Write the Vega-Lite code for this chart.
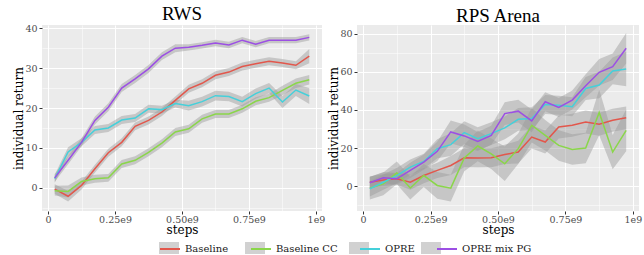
{
  "$schema": "https://vega.github.io/schema/vega-lite/v6.json",
  "padding": {"left": 12, "top": 5, "right": 5, "bottom": 0},
  "spacing": 2,
  "datasets": {
    "rws": [
      {"s": 25000000, "series": "Baseline", "mean": -0.3, "lo": -1.5, "hi": 0.9},
      {"s": 75000000, "series": "Baseline", "mean": -2.1, "lo": -3.4, "hi": -0.8},
      {"s": 125000000, "series": "Baseline", "mean": 0.6, "lo": -0.4, "hi": 1.6},
      {"s": 175000000, "series": "Baseline", "mean": 4.8, "lo": 3.8, "hi": 5.8},
      {"s": 225000000, "series": "Baseline", "mean": 8.8, "lo": 7.8, "hi": 9.8},
      {"s": 275000000, "series": "Baseline", "mean": 11.4, "lo": 10.4, "hi": 12.4},
      {"s": 325000000, "series": "Baseline", "mean": 15.4, "lo": 14.4, "hi": 16.4},
      {"s": 375000000, "series": "Baseline", "mean": 16.9, "lo": 15.9, "hi": 17.9},
      {"s": 425000000, "series": "Baseline", "mean": 19.0, "lo": 18.0, "hi": 20.0},
      {"s": 475000000, "series": "Baseline", "mean": 21.9, "lo": 20.9, "hi": 22.9},
      {"s": 525000000, "series": "Baseline", "mean": 24.8, "lo": 23.8, "hi": 25.8},
      {"s": 575000000, "series": "Baseline", "mean": 26.2, "lo": 25.2, "hi": 27.2},
      {"s": 625000000, "series": "Baseline", "mean": 28.2, "lo": 27.2, "hi": 29.2},
      {"s": 675000000, "series": "Baseline", "mean": 29.0, "lo": 28.0, "hi": 30.0},
      {"s": 725000000, "series": "Baseline", "mean": 30.4, "lo": 29.4, "hi": 31.4},
      {"s": 775000000, "series": "Baseline", "mean": 31.1, "lo": 30.1, "hi": 32.1},
      {"s": 825000000, "series": "Baseline", "mean": 31.7, "lo": 30.7, "hi": 32.7},
      {"s": 875000000, "series": "Baseline", "mean": 31.3, "lo": 30.3, "hi": 32.3},
      {"s": 925000000, "series": "Baseline", "mean": 30.7, "lo": 29.7, "hi": 31.7},
      {"s": 975000000, "series": "Baseline", "mean": 33.0, "lo": 31.2, "hi": 34.8},
      {"s": 25000000, "series": "Baseline CC", "mean": -0.7, "lo": -1.9, "hi": 0.5},
      {"s": 75000000, "series": "Baseline CC", "mean": -0.9, "lo": -2.4, "hi": 0.6},
      {"s": 125000000, "series": "Baseline CC", "mean": 1.6, "lo": 0.6, "hi": 2.6},
      {"s": 175000000, "series": "Baseline CC", "mean": 2.3, "lo": 1.3, "hi": 3.3},
      {"s": 225000000, "series": "Baseline CC", "mean": 2.5, "lo": 1.5, "hi": 3.5},
      {"s": 275000000, "series": "Baseline CC", "mean": 6.0, "lo": 5.0, "hi": 7.0},
      {"s": 325000000, "series": "Baseline CC", "mean": 6.9, "lo": 5.9, "hi": 7.9},
      {"s": 375000000, "series": "Baseline CC", "mean": 8.9, "lo": 7.9, "hi": 9.9},
      {"s": 425000000, "series": "Baseline CC", "mean": 11.2, "lo": 10.2, "hi": 12.2},
      {"s": 475000000, "series": "Baseline CC", "mean": 14.0, "lo": 13.0, "hi": 15.0},
      {"s": 525000000, "series": "Baseline CC", "mean": 14.8, "lo": 13.8, "hi": 15.8},
      {"s": 575000000, "series": "Baseline CC", "mean": 17.3, "lo": 16.3, "hi": 18.3},
      {"s": 625000000, "series": "Baseline CC", "mean": 18.5, "lo": 17.5, "hi": 19.5},
      {"s": 675000000, "series": "Baseline CC", "mean": 18.5, "lo": 17.5, "hi": 19.5},
      {"s": 725000000, "series": "Baseline CC", "mean": 19.8, "lo": 18.8, "hi": 20.8},
      {"s": 775000000, "series": "Baseline CC", "mean": 21.7, "lo": 20.7, "hi": 22.7},
      {"s": 825000000, "series": "Baseline CC", "mean": 22.6, "lo": 21.6, "hi": 23.6},
      {"s": 875000000, "series": "Baseline CC", "mean": 24.4, "lo": 23.2, "hi": 25.6},
      {"s": 925000000, "series": "Baseline CC", "mean": 26.2, "lo": 25.0, "hi": 27.4},
      {"s": 975000000, "series": "Baseline CC", "mean": 27.1, "lo": 25.9, "hi": 28.3},
      {"s": 25000000, "series": "OPRE", "mean": 2.3, "lo": 1.3, "hi": 3.3},
      {"s": 75000000, "series": "OPRE", "mean": 9.0, "lo": 7.8, "hi": 10.2},
      {"s": 125000000, "series": "OPRE", "mean": 11.4, "lo": 10.4, "hi": 12.4},
      {"s": 175000000, "series": "OPRE", "mean": 14.5, "lo": 13.5, "hi": 15.5},
      {"s": 225000000, "series": "OPRE", "mean": 15.0, "lo": 14.0, "hi": 16.0},
      {"s": 275000000, "series": "OPRE", "mean": 17.0, "lo": 16.0, "hi": 18.0},
      {"s": 325000000, "series": "OPRE", "mean": 17.5, "lo": 16.5, "hi": 18.5},
      {"s": 375000000, "series": "OPRE", "mean": 19.8, "lo": 18.8, "hi": 20.8},
      {"s": 425000000, "series": "OPRE", "mean": 19.6, "lo": 18.6, "hi": 20.6},
      {"s": 475000000, "series": "OPRE", "mean": 21.1, "lo": 20.1, "hi": 22.1},
      {"s": 525000000, "series": "OPRE", "mean": 20.6, "lo": 19.4, "hi": 21.8},
      {"s": 575000000, "series": "OPRE", "mean": 21.6, "lo": 20.4, "hi": 22.8},
      {"s": 625000000, "series": "OPRE", "mean": 23.1, "lo": 21.9, "hi": 24.3},
      {"s": 675000000, "series": "OPRE", "mean": 22.9, "lo": 21.7, "hi": 24.1},
      {"s": 725000000, "series": "OPRE", "mean": 21.6, "lo": 20.4, "hi": 22.8},
      {"s": 775000000, "series": "OPRE", "mean": 23.6, "lo": 22.3, "hi": 24.9},
      {"s": 825000000, "series": "OPRE", "mean": 25.0, "lo": 23.7, "hi": 26.3},
      {"s": 875000000, "series": "OPRE", "mean": 21.5, "lo": 20.0, "hi": 23.0},
      {"s": 925000000, "series": "OPRE", "mean": 24.5, "lo": 23.0, "hi": 26.0},
      {"s": 975000000, "series": "OPRE", "mean": 23.0, "lo": 21.0, "hi": 25.0},
      {"s": 25000000, "series": "OPRE mix PG", "mean": 2.5, "lo": 1.5, "hi": 3.5},
      {"s": 75000000, "series": "OPRE mix PG", "mean": 6.9, "lo": 5.9, "hi": 7.9},
      {"s": 125000000, "series": "OPRE mix PG", "mean": 11.4, "lo": 10.4, "hi": 12.4},
      {"s": 175000000, "series": "OPRE mix PG", "mean": 16.9, "lo": 15.9, "hi": 17.9},
      {"s": 225000000, "series": "OPRE mix PG", "mean": 20.2, "lo": 19.2, "hi": 21.2},
      {"s": 275000000, "series": "OPRE mix PG", "mean": 25.0, "lo": 24.0, "hi": 26.0},
      {"s": 325000000, "series": "OPRE mix PG", "mean": 27.3, "lo": 26.3, "hi": 28.3},
      {"s": 375000000, "series": "OPRE mix PG", "mean": 29.8, "lo": 28.8, "hi": 30.8},
      {"s": 425000000, "series": "OPRE mix PG", "mean": 33.0, "lo": 32.0, "hi": 34.0},
      {"s": 475000000, "series": "OPRE mix PG", "mean": 35.0, "lo": 34.0, "hi": 36.0},
      {"s": 525000000, "series": "OPRE mix PG", "mean": 35.2, "lo": 34.4, "hi": 36.0},
      {"s": 575000000, "series": "OPRE mix PG", "mean": 35.7, "lo": 34.9, "hi": 36.5},
      {"s": 625000000, "series": "OPRE mix PG", "mean": 36.3, "lo": 35.5, "hi": 37.1},
      {"s": 675000000, "series": "OPRE mix PG", "mean": 35.8, "lo": 35.0, "hi": 36.6},
      {"s": 725000000, "series": "OPRE mix PG", "mean": 37.0, "lo": 36.2, "hi": 37.8},
      {"s": 775000000, "series": "OPRE mix PG", "mean": 36.0, "lo": 35.2, "hi": 36.8},
      {"s": 825000000, "series": "OPRE mix PG", "mean": 37.0, "lo": 36.2, "hi": 37.8},
      {"s": 875000000, "series": "OPRE mix PG", "mean": 37.0, "lo": 36.2, "hi": 37.8},
      {"s": 925000000, "series": "OPRE mix PG", "mean": 37.0, "lo": 36.2, "hi": 37.8},
      {"s": 975000000, "series": "OPRE mix PG", "mean": 37.7, "lo": 36.9, "hi": 38.5}
    ],
    "rps": [
      {"s": 25000000, "series": "Baseline", "mean": 2.1, "lo": -0.9, "hi": 5.1},
      {"s": 75000000, "series": "Baseline", "mean": 3.3, "lo": 0.3, "hi": 6.3},
      {"s": 125000000, "series": "Baseline", "mean": 3.9, "lo": 0.9, "hi": 6.9},
      {"s": 175000000, "series": "Baseline", "mean": 2.1, "lo": -1.9, "hi": 6.1},
      {"s": 225000000, "series": "Baseline", "mean": 5.6, "lo": 1.6, "hi": 9.6},
      {"s": 275000000, "series": "Baseline", "mean": 8.3, "lo": 4.3, "hi": 12.3},
      {"s": 325000000, "series": "Baseline", "mean": 10.9, "lo": 5.9, "hi": 15.9},
      {"s": 375000000, "series": "Baseline", "mean": 14.9, "lo": 9.9, "hi": 19.9},
      {"s": 425000000, "series": "Baseline", "mean": 14.8, "lo": 9.8, "hi": 19.8},
      {"s": 475000000, "series": "Baseline", "mean": 14.9, "lo": 9.9, "hi": 19.9},
      {"s": 525000000, "series": "Baseline", "mean": 16.7, "lo": 11.7, "hi": 21.7},
      {"s": 575000000, "series": "Baseline", "mean": 17.9, "lo": 11.9, "hi": 23.9},
      {"s": 625000000, "series": "Baseline", "mean": 25.8, "lo": 19.8, "hi": 31.8},
      {"s": 675000000, "series": "Baseline", "mean": 23.2, "lo": 17.2, "hi": 29.2},
      {"s": 725000000, "series": "Baseline", "mean": 31.1, "lo": 25.1, "hi": 37.1},
      {"s": 775000000, "series": "Baseline", "mean": 32.0, "lo": 26.0, "hi": 38.0},
      {"s": 825000000, "series": "Baseline", "mean": 33.7, "lo": 27.7, "hi": 39.7},
      {"s": 875000000, "series": "Baseline", "mean": 32.5, "lo": 26.5, "hi": 38.5},
      {"s": 925000000, "series": "Baseline", "mean": 34.6, "lo": 28.6, "hi": 40.6},
      {"s": 975000000, "series": "Baseline", "mean": 35.9, "lo": 29.9, "hi": 41.9},
      {"s": 25000000, "series": "Baseline CC", "mean": -1.0, "lo": -7.0, "hi": 5.0},
      {"s": 75000000, "series": "Baseline CC", "mean": 1.2, "lo": -4.8, "hi": 7.2},
      {"s": 125000000, "series": "Baseline CC", "mean": 7.0, "lo": 1.0, "hi": 13.0},
      {"s": 175000000, "series": "Baseline CC", "mean": -0.9, "lo": -6.9, "hi": 5.1},
      {"s": 225000000, "series": "Baseline CC", "mean": 5.6, "lo": -0.4, "hi": 11.6},
      {"s": 275000000, "series": "Baseline CC", "mean": 0.4, "lo": -6.6, "hi": 7.4},
      {"s": 325000000, "series": "Baseline CC", "mean": -1.0, "lo": -8.0, "hi": 6.0},
      {"s": 375000000, "series": "Baseline CC", "mean": 14.8, "lo": 7.8, "hi": 21.8},
      {"s": 425000000, "series": "Baseline CC", "mean": 21.1, "lo": 13.1, "hi": 29.1},
      {"s": 475000000, "series": "Baseline CC", "mean": 17.0, "lo": 9.0, "hi": 25.0},
      {"s": 525000000, "series": "Baseline CC", "mean": 11.8, "lo": 2.8, "hi": 20.8},
      {"s": 575000000, "series": "Baseline CC", "mean": 19.7, "lo": 11.7, "hi": 27.7},
      {"s": 625000000, "series": "Baseline CC", "mean": 32.0, "lo": 23.0, "hi": 41.0},
      {"s": 675000000, "series": "Baseline CC", "mean": 26.7, "lo": 18.7, "hi": 34.7},
      {"s": 725000000, "series": "Baseline CC", "mean": 21.4, "lo": 13.4, "hi": 29.4},
      {"s": 775000000, "series": "Baseline CC", "mean": 19.3, "lo": 11.3, "hi": 27.3},
      {"s": 825000000, "series": "Baseline CC", "mean": 20.0, "lo": 12.0, "hi": 28.0},
      {"s": 875000000, "series": "Baseline CC", "mean": 38.7, "lo": 26.7, "hi": 50.7},
      {"s": 925000000, "series": "Baseline CC", "mean": 17.9, "lo": 8.9, "hi": 26.9},
      {"s": 975000000, "series": "Baseline CC", "mean": 29.3, "lo": 18.3, "hi": 40.3},
      {"s": 25000000, "series": "OPRE", "mean": -1.4, "lo": -5.4, "hi": 2.6},
      {"s": 75000000, "series": "OPRE", "mean": 2.1, "lo": -1.9, "hi": 6.1},
      {"s": 125000000, "series": "OPRE", "mean": 5.6, "lo": 1.6, "hi": 9.6},
      {"s": 175000000, "series": "OPRE", "mean": 10.0, "lo": 6.0, "hi": 14.0},
      {"s": 225000000, "series": "OPRE", "mean": 13.0, "lo": 9.0, "hi": 17.0},
      {"s": 275000000, "series": "OPRE", "mean": 19.7, "lo": 14.7, "hi": 24.7},
      {"s": 325000000, "series": "OPRE", "mean": 21.8, "lo": 15.8, "hi": 27.8},
      {"s": 375000000, "series": "OPRE", "mean": 28.1, "lo": 22.1, "hi": 34.1},
      {"s": 425000000, "series": "OPRE", "mean": 25.0, "lo": 19.0, "hi": 31.0},
      {"s": 475000000, "series": "OPRE", "mean": 27.6, "lo": 21.6, "hi": 33.6},
      {"s": 525000000, "series": "OPRE", "mean": 30.6, "lo": 24.6, "hi": 36.6},
      {"s": 575000000, "series": "OPRE", "mean": 35.1, "lo": 29.1, "hi": 41.1},
      {"s": 625000000, "series": "OPRE", "mean": 35.5, "lo": 29.5, "hi": 41.5},
      {"s": 675000000, "series": "OPRE", "mean": 42.9, "lo": 37.9, "hi": 47.9},
      {"s": 725000000, "series": "OPRE", "mean": 42.5, "lo": 37.5, "hi": 47.5},
      {"s": 775000000, "series": "OPRE", "mean": 41.7, "lo": 36.7, "hi": 46.7},
      {"s": 825000000, "series": "OPRE", "mean": 51.3, "lo": 45.3, "hi": 57.3},
      {"s": 875000000, "series": "OPRE", "mean": 53.1, "lo": 46.1, "hi": 60.1},
      {"s": 925000000, "series": "OPRE", "mean": 60.5, "lo": 53.5, "hi": 67.5},
      {"s": 975000000, "series": "OPRE", "mean": 61.5, "lo": 52.5, "hi": 70.5},
      {"s": 25000000, "series": "OPRE mix PG", "mean": 1.8, "lo": -1.2, "hi": 4.8},
      {"s": 75000000, "series": "OPRE mix PG", "mean": 4.4, "lo": 1.4, "hi": 7.4},
      {"s": 125000000, "series": "OPRE mix PG", "mean": 3.9, "lo": 0.9, "hi": 6.9},
      {"s": 175000000, "series": "OPRE mix PG", "mean": 8.3, "lo": 4.3, "hi": 12.3},
      {"s": 225000000, "series": "OPRE mix PG", "mean": 12.7, "lo": 8.7, "hi": 16.7},
      {"s": 275000000, "series": "OPRE mix PG", "mean": 18.3, "lo": 13.3, "hi": 23.3},
      {"s": 325000000, "series": "OPRE mix PG", "mean": 28.5, "lo": 22.5, "hi": 34.5},
      {"s": 375000000, "series": "OPRE mix PG", "mean": 26.4, "lo": 20.4, "hi": 32.4},
      {"s": 425000000, "series": "OPRE mix PG", "mean": 23.5, "lo": 18.5, "hi": 28.5},
      {"s": 475000000, "series": "OPRE mix PG", "mean": 26.7, "lo": 21.7, "hi": 31.7},
      {"s": 525000000, "series": "OPRE mix PG", "mean": 38.1, "lo": 32.1, "hi": 44.1},
      {"s": 575000000, "series": "OPRE mix PG", "mean": 39.4, "lo": 33.4, "hi": 45.4},
      {"s": 625000000, "series": "OPRE mix PG", "mean": 34.3, "lo": 28.3, "hi": 40.3},
      {"s": 675000000, "series": "OPRE mix PG", "mean": 44.3, "lo": 39.3, "hi": 49.3},
      {"s": 725000000, "series": "OPRE mix PG", "mean": 41.3, "lo": 36.3, "hi": 46.3},
      {"s": 775000000, "series": "OPRE mix PG", "mean": 45.2, "lo": 40.2, "hi": 50.2},
      {"s": 825000000, "series": "OPRE mix PG", "mean": 52.7, "lo": 46.7, "hi": 58.7},
      {"s": 875000000, "series": "OPRE mix PG", "mean": 59.8, "lo": 52.8, "hi": 66.8},
      {"s": 925000000, "series": "OPRE mix PG", "mean": 62.7, "lo": 55.7, "hi": 69.7},
      {"s": 975000000, "series": "OPRE mix PG", "mean": 72.4, "lo": 64.4, "hi": 80.4}
    ]
  },
  "hconcat": [
    {
      "width": 280,
      "height": 186,
      "title": {"text": "RWS"},
      "data": {"name": "rws"},
      "encoding": {
        "x": {
          "field": "s", "type": "quantitative",
          "scale": {"domain": [-22500000, 1022500000], "nice": false, "zero": false},
          "axis": {
            "title": "steps",
            "values": [0, 125000000, 250000000, 375000000, 500000000, 625000000, 750000000, 875000000, 1000000000],
            "labelExpr": "datum.value % 250000000 != 0 ? '' : (datum.value == 0 ? '0' : (datum.value == 1000000000 ? '1e9' : format(datum.value / 1000000000, '.2f') + 'e9'))",
            "gridWidth": {"condition": {"test": "datum.value % 250000000 != 0", "value": 0.5}, "value": 1},
            "tickOpacity": {"condition": {"test": "datum.value % 250000000 != 0", "value": 0}, "value": 1}
          }
        },
        "y": {
          "field": "mean", "type": "quantitative",
          "scale": {"domain": [-5.8, 40.8], "nice": false, "zero": false},
          "axis": {
            "title": "individual return",
            "values": [-5, 0, 5, 10, 15, 20, 25, 30, 35, 40],
            "labelExpr": "datum.value % 10 != 0 ? '' : format(datum.value, 'd')",
            "gridWidth": {"condition": {"test": "datum.value % 10 != 0", "value": 0.5}, "value": 1},
            "tickOpacity": {"condition": {"test": "datum.value % 10 != 0", "value": 0}, "value": 1}
          }
        }
      },
      "layer": [
        {
          "mark": {"type": "area", "opacity": 0.45},
          "encoding": {
            "y": {"field": "lo", "type": "quantitative",
              "scale": {"domain": [-5.8, 40.8], "nice": false, "zero": false},
              "axis": {
                "title": "individual return",
                "values": [-5, 0, 5, 10, 15, 20, 25, 30, 35, 40],
                "labelExpr": "datum.value % 10 != 0 ? '' : format(datum.value, 'd')",
                "gridWidth": {"condition": {"test": "datum.value % 10 != 0", "value": 0.5}, "value": 1},
                "tickOpacity": {"condition": {"test": "datum.value % 10 != 0", "value": 0}, "value": 1}
              }},
            "y2": {"field": "hi"},
            "fill": {"field": "series", "type": "nominal",
              "scale": {"domain": ["Baseline", "Baseline CC", "OPRE", "OPRE mix PG"], "range": ["#999999", "#999999", "#999999", "#999999"]},
              "legend": {"orient": "none", "legendX": 117, "legendY": 213, "direction": "horizontal", "title": null,
                "symbolType": "M-1,-0.6H1V0.6H-1Z", "symbolSize": 400, "symbolStrokeWidth": 0, "symbolOpacity": 0.4,
                "labelOpacity": 0, "labelFont": "DejaVu Serif", "labelFontSize": 10, "columnPadding": 18, "labelOffset": 4}}
          }
        },
        {
          "mark": {"type": "line", "strokeWidth": 1.5},
          "encoding": {
            "stroke": {"field": "series", "type": "nominal",
              "scale": {"range": ["#E2574C", "#8AD64A", "#45D0DA", "#9C4FE4"]},
              "legend": {"orient": "none", "legendX": 117, "legendY": 213, "direction": "horizontal", "title": null,
                "symbolType": "M-1,0H1", "symbolSize": 400, "symbolStrokeWidth": 2,
                "labelFont": "DejaVu Serif", "labelFontSize": 10, "labelColor": "#1A1A1A", "columnPadding": 18, "labelOffset": 4}}
          }
        }
      ]
    },
    {
      "width": 282,
      "height": 186,
      "title": {"text": "RPS Arena"},
      "data": {"name": "rps"},
      "encoding": {
        "x": {
          "field": "s", "type": "quantitative",
          "scale": {"domain": [-22500000, 1022500000], "nice": false, "zero": false},
          "axis": {
            "title": "steps",
            "values": [0, 125000000, 250000000, 375000000, 500000000, 625000000, 750000000, 875000000, 1000000000],
            "labelExpr": "datum.value % 250000000 != 0 ? '' : (datum.value == 0 ? '0' : (datum.value == 1000000000 ? '1e9' : format(datum.value / 1000000000, '.2f') + 'e9'))",
            "gridWidth": {"condition": {"test": "datum.value % 250000000 != 0", "value": 0.5}, "value": 1},
            "tickOpacity": {"condition": {"test": "datum.value % 250000000 != 0", "value": 0}, "value": 1}
          }
        },
        "y": {
          "field": "mean", "type": "quantitative",
          "scale": {"domain": [-13, 84.6], "nice": false, "zero": false},
          "axis": {
            "title": "individual return",
            "values": [-10, 0, 10, 20, 30, 40, 50, 60, 70, 80],
            "labelExpr": "datum.value % 20 != 0 ? '' : format(datum.value, 'd')",
            "gridWidth": {"condition": {"test": "datum.value % 20 != 0", "value": 0.5}, "value": 1},
            "tickOpacity": {"condition": {"test": "datum.value % 20 != 0", "value": 0}, "value": 1}
          }
        }
      },
      "layer": [
        {
          "mark": {"type": "area", "opacity": 0.45},
          "encoding": {
            "y": {"field": "lo", "type": "quantitative",
              "scale": {"domain": [-13, 84.6], "nice": false, "zero": false},
              "axis": {
                "title": "individual return",
                "values": [-10, 0, 10, 20, 30, 40, 50, 60, 70, 80],
                "labelExpr": "datum.value % 20 != 0 ? '' : format(datum.value, 'd')",
                "gridWidth": {"condition": {"test": "datum.value % 20 != 0", "value": 0.5}, "value": 1},
                "tickOpacity": {"condition": {"test": "datum.value % 20 != 0", "value": 0}, "value": 1}
              }},
            "y2": {"field": "hi"},
            "fill": {"field": "series", "type": "nominal"}
          }
        },
        {
          "mark": {"type": "line", "strokeWidth": 1.5},
          "encoding": {
            "stroke": {"field": "series", "type": "nominal"}
          }
        }
      ]
    }
  ],
  "config": {
    "view": {"fill": "#EBEBEB", "stroke": null},
    "font": "DejaVu Serif",
    "axis": {
      "domain": false, "tickColor": "#333333", "tickSize": 3,
      "labelColor": "#4D4D4D", "labelFont": "DejaVu Serif", "labelFontSize": 9.5, "labelPadding": 2,
      "labelOverlap": false,
      "titleFont": "DejaVu Serif", "titleFontSize": 12, "titleFontWeight": "normal", "titleColor": "#000000", "titlePadding": 2,
      "gridColor": "#FFFFFF"
    },
    "axisX": {"titlePadding": 1, "labelPadding": 0},
    "axisY": {"titlePadding": -1},
    "title": {"font": "Liberation Serif", "fontSize": 19, "fontWeight": "normal", "color": "#000000", "offset": -1}
  }
}
